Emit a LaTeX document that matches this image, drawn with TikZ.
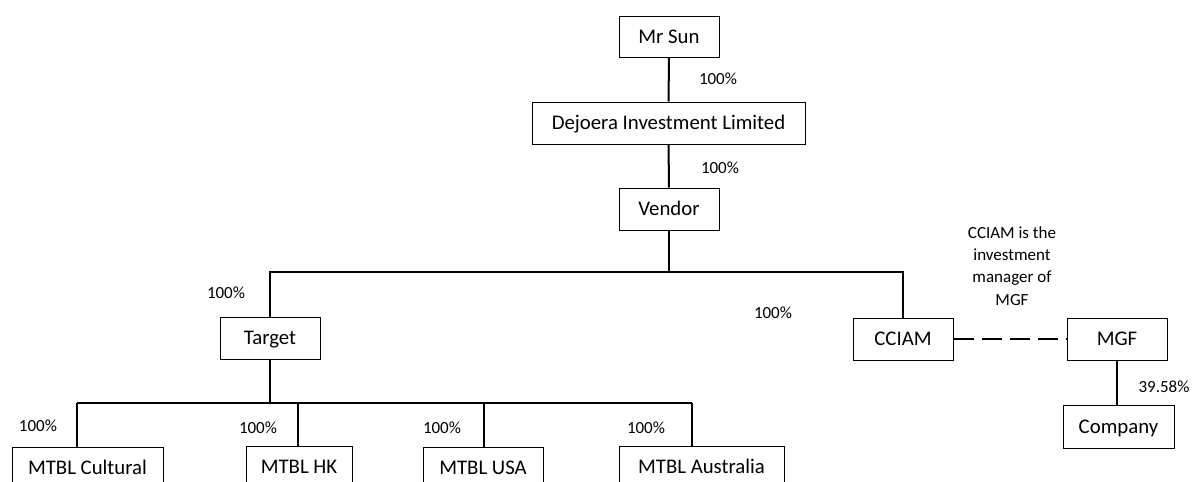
\documentclass[tikz,border=0pt]{standalone}
\usepackage{fontspec}
\setmainfont{Carlito}
\begin{document}
\begin{tikzpicture}[x=1pt,y=-1pt,
  ent/.style={draw=black,line width=1pt,inner sep=0pt,minimum height=42pt,text height=16pt,text depth=2.6pt,font=\fontsize{20.8}{25}\selectfont},
  lbl/.style={inner sep=0pt,font=\fontsize{17}{22}\selectfont},
  conn/.style={line width=2pt},
  dconn/.style={line width=2pt,dash pattern=on 20pt off 8pt}]
\useasboundingbox (0,0) rectangle (1192,482);
\node[ent,minimum width=100pt,minimum height=41pt] (sun) at (669,36.5) {Mr Sun};
\node[ent,minimum width=273pt] (dej) at (668.5,123) {Dejoera Investment Limited};
\node[ent,minimum width=100pt] (ven) at (669,209) {Vendor};
\node[ent,minimum width=100pt] (tgt) at (270,338) {Target};
\node[ent,minimum width=100pt] (cciam) at (903,339) {CCIAM};
\node[ent,minimum width=100pt] (mgf) at (1117,339) {MGF};
\node[ent,minimum width=111pt,minimum height=43pt] (comp) at (1118.5,426.5) {Company};
\node[ent,minimum width=151pt] (cult) at (87.5,468) {MTBL Cultural};
\node[ent,minimum width=106pt] (hk) at (299,467) {MTBL HK};
\node[ent,minimum width=120pt] (usa) at (483,468) {MTBL USA};
\node[ent,minimum width=165pt] (aus) at (701.5,467) {MTBL Australia};

\coordinate (bus1) at (0,272);
\coordinate (bus2) at (0,403);
\coordinate (d1) at (77,403);
\coordinate (d2) at (298,403);
\coordinate (d3) at (484,403);
\coordinate (d4) at (692,403);

\draw[conn] (sun) -- (dej);
\draw[conn] (dej) -- (ven);
\draw[conn] (ven.south) -- (ven.south |- bus1);
\draw[conn] (tgt.north) -- (tgt.north |- bus1) -- (cciam.north |- bus1) -- (cciam.north);
\draw[conn] (tgt.south) -- (tgt.south |- bus2);
\draw[conn] (d1) -- (d4);
\draw[conn] (d1) -- (d1 |- cult.north);
\draw[conn] (d2) -- (d2 |- hk.north);
\draw[conn] (d3) -- (d3 |- usa.north);
\draw[conn] (d4) -- (d4 |- aus.north);
\draw[dconn] (cciam.east) -- (mgf.west);
\draw[conn] (mgf.south) -- (mgf.south |- comp.north);

\node[lbl] (l1) at (718,79) {100\%};
\node[lbl] (l2) at (720,168) {100\%};
\node[lbl] (l3) at (226,293) {100\%};
\node[lbl] (l4) at (773,313) {100\%};
\node[lbl] (l5) at (38,426) {100\%};
\node[lbl] (l6) at (258,428) {100\%};
\node[lbl] (l7) at (442,428) {100\%};
\node[lbl] (l8) at (646,428) {100\%};
\node[lbl] (l9) at (1164,387) {39.58\%};
\node[lbl,align=center,font=\fontsize{17}{22.3}\selectfont] (note) at (1012,266) {CCIAM is the\\investment\\manager of\\MGF};
\end{tikzpicture}
\end{document}
